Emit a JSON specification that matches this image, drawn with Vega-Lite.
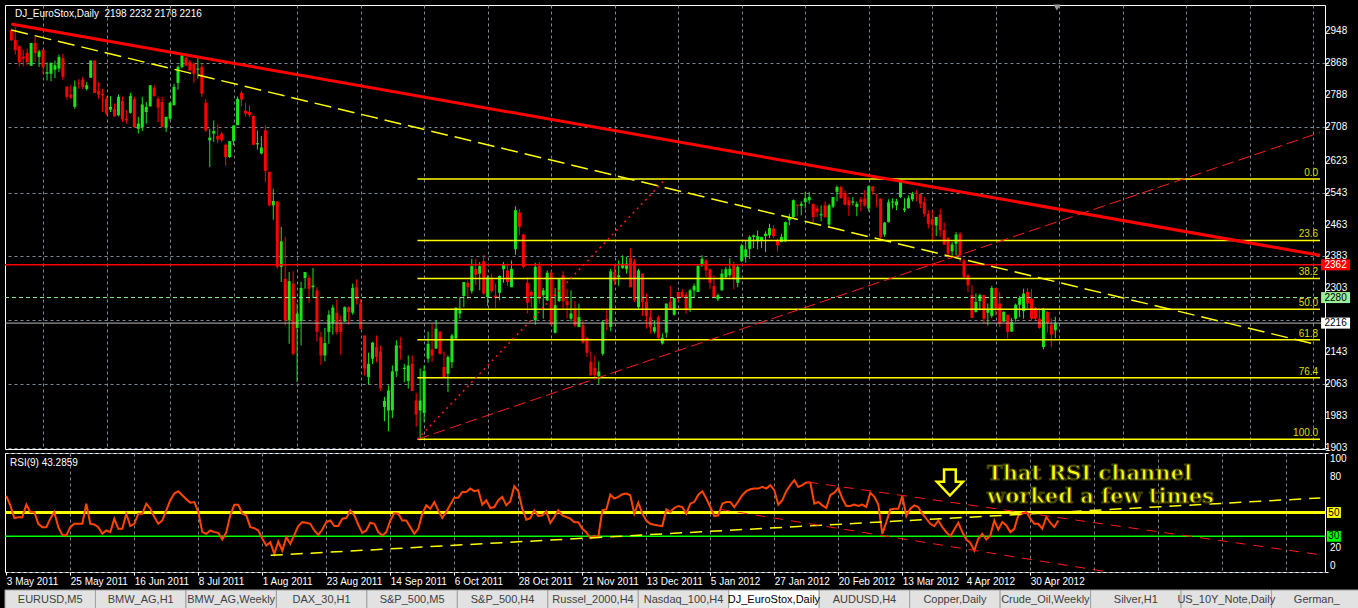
{
"$schema": "https://vega.github.io/schema/vega-lite/v6.json",
"background": "#000000",
"padding": {"left": 1, "top": 3, "right": 0, "bottom": 0},
"spacing": 2,
"config": {
 "view": {"stroke": "#ffffff", "strokeWidth": 1},
 "axis": {"labelFont": "Liberation Sans", "labelFontSize": 10, "labelColor": "#ffffff", "gridColor": "#7a8794", "gridDash": [3,3], "gridWidth": 1, "tickColor": "#ffffff", "tickWidth": 1, "domain": false, "zindex": 0, "labelOverlap": false},
 "text": {"font": "Liberation Sans"}
},
"resolve": {"scale": {"x": "independent", "y": "independent"}},
"datasets": {
"one": [{}],
"bars": [
{"i":0,"o":2950,"h":2954,"l":2923,"c":2925,"r":63.9},
{"i":1,"o":2926,"h":2958,"l":2889,"c":2900,"r":56},
{"i":2,"o":2910,"h":2912,"l":2859,"c":2870,"r":45.3},
{"i":3,"o":2884,"h":2900,"l":2859,"c":2879,"r":46},
{"i":4,"o":2893,"h":2904,"l":2862,"c":2870,"r":46},
{"i":5,"o":2861,"h":2918,"l":2861,"c":2918,"r":56.6},
{"i":6,"o":2918,"h":2933,"l":2870,"c":2893,"r":50.4},
{"i":7,"o":2883,"h":2901,"l":2858,"c":2897,"r":50.4},
{"i":8,"o":2901,"h":2901,"l":2841,"c":2858,"r":40.5},
{"i":9,"o":2841,"h":2869,"l":2824,"c":2845,"r":37.7},
{"i":10,"o":2841,"h":2870,"l":2822,"c":2868,"r":37.7},
{"i":11,"o":2851,"h":2874,"l":2830,"c":2862,"r":44.8},
{"i":12,"o":2854,"h":2889,"l":2845,"c":2883,"r":50.4},
{"i":13,"o":2880,"h":2891,"l":2826,"c":2833,"r":37.7},
{"i":14,"o":2809,"h":2809,"l":2776,"c":2783,"r":31.2},
{"i":15,"o":2789,"h":2812,"l":2778,"c":2781,"r":30.7},
{"i":16,"o":2758,"h":2824,"l":2753,"c":2809,"r":37.7},
{"i":17,"o":2818,"h":2828,"l":2803,"c":2816,"r":40.5},
{"i":18,"o":2826,"h":2833,"l":2803,"c":2808,"r":40.5},
{"i":19,"o":2803,"h":2820,"l":2799,"c":2812,"r":40.5},
{"i":20,"o":2831,"h":2874,"l":2831,"c":2874,"r":57.4},
{"i":21,"o":2874,"h":2874,"l":2793,"c":2793,"r":40.5},
{"i":22,"o":2798,"h":2820,"l":2778,"c":2789,"r":40},
{"i":23,"o":2791,"h":2803,"l":2745,"c":2787,"r":37.7},
{"i":24,"o":2778,"h":2784,"l":2737,"c":2741,"r":32.1},
{"i":25,"o":2751,"h":2785,"l":2745,"c":2758,"r":34.9},
{"i":26,"o":2753,"h":2766,"l":2734,"c":2734,"r":33.5},
{"i":27,"o":2737,"h":2789,"l":2734,"c":2783,"r":44.8},
{"i":28,"o":2773,"h":2784,"l":2720,"c":2726,"r":36.3},
{"i":29,"o":2728,"h":2749,"l":2716,"c":2724,"r":36.3},
{"i":30,"o":2743,"h":2793,"l":2741,"c":2785,"r":49},
{"i":31,"o":2777,"h":2783,"l":2707,"c":2707,"r":38.6},
{"i":32,"o":2703,"h":2733,"l":2691,"c":2716,"r":40.5},
{"i":33,"o":2707,"h":2783,"l":2697,"c":2764,"r":49},
{"i":34,"o":2745,"h":2770,"l":2716,"c":2758,"r":49},
{"i":35,"o":2759,"h":2812,"l":2759,"c":2812,"r":57.4},
{"i":36,"o":2805,"h":2812,"l":2783,"c":2785,"r":53.2},
{"i":37,"o":2778,"h":2784,"l":2720,"c":2756,"r":46.2},
{"i":38,"o":2770,"h":2783,"l":2707,"c":2707,"r":40.5},
{"i":39,"o":2707,"h":2733,"l":2695,"c":2733,"r":43.3},
{"i":40,"o":2728,"h":2770,"l":2724,"c":2768,"r":51.8},
{"i":41,"o":2762,"h":2816,"l":2762,"c":2808,"r":60.3},
{"i":42,"o":2818,"h":2862,"l":2801,"c":2858,"r":65.9},
{"i":43,"o":2858,"h":2891,"l":2854,"c":2887,"r":67.9},
{"i":44,"o":2881,"h":2884,"l":2859,"c":2862,"r":64.5},
{"i":45,"o":2870,"h":2876,"l":2849,"c":2849,"r":61.1},
{"i":46,"o":2866,"h":2870,"l":2818,"c":2841,"r":58.3},
{"i":47,"o":2851,"h":2883,"l":2829,"c":2854,"r":58.8},
{"i":48,"o":2858,"h":2866,"l":2783,"c":2791,"r":50.4},
{"i":49,"o":2768,"h":2778,"l":2695,"c":2699,"r":33.5},
{"i":50,"o":2674,"h":2703,"l":2607,"c":2681,"r":32.1},
{"i":51,"o":2691,"h":2724,"l":2670,"c":2697,"r":34.9},
{"i":52,"o":2685,"h":2714,"l":2667,"c":2676,"r":33.5},
{"i":53,"o":2691,"h":2695,"l":2670,"c":2674,"r":32.9},
{"i":54,"o":2663,"h":2666,"l":2610,"c":2632,"r":27.3},
{"i":55,"o":2632,"h":2672,"l":2630,"c":2672,"r":33.5},
{"i":56,"o":2672,"h":2712,"l":2662,"c":2711,"r":47.6},
{"i":57,"o":2712,"h":2784,"l":2712,"c":2778,"r":56.6},
{"i":58,"o":2793,"h":2798,"l":2759,"c":2776,"r":56.6},
{"i":59,"o":2748,"h":2768,"l":2734,"c":2741,"r":49},
{"i":60,"o":2745,"h":2762,"l":2733,"c":2737,"r":47.6},
{"i":61,"o":2735,"h":2737,"l":2662,"c":2663,"r":37.7},
{"i":62,"o":2664,"h":2699,"l":2651,"c":2667,"r":36.9},
{"i":63,"o":2641,"h":2685,"l":2639,"c":2656,"r":34.9},
{"i":64,"o":2699,"h":2712,"l":2570,"c":2597,"r":27.9},
{"i":65,"o":2595,"h":2595,"l":2509,"c":2511,"r":22.2},
{"i":66,"o":2511,"h":2553,"l":2475,"c":2522,"r":25},
{"i":67,"o":2521,"h":2521,"l":2352,"c":2357,"r":15.2},
{"i":68,"o":2357,"h":2457,"l":2319,"c":2421,"r":25.6},
{"i":69,"o":2327,"h":2432,"l":2210,"c":2223,"r":18},
{"i":70,"o":2223,"h":2344,"l":2164,"c":2321,"r":29.3},
{"i":71,"o":2315,"h":2346,"l":2135,"c":2139,"r":23.6},
{"i":72,"o":2204,"h":2265,"l":2068,"c":2240,"r":31.2},
{"i":73,"o":2221,"h":2319,"l":2160,"c":2304,"r":38.6},
{"i":74,"o":2329,"h":2344,"l":2302,"c":2344,"r":41.9},
{"i":75,"o":2329,"h":2336,"l":2267,"c":2302,"r":41.4},
{"i":76,"o":2306,"h":2354,"l":2279,"c":2310,"r":40.5},
{"i":77,"o":2298,"h":2306,"l":2170,"c":2194,"r":34.9},
{"i":78,"o":2181,"h":2194,"l":2112,"c":2135,"r":31.2},
{"i":79,"o":2135,"h":2204,"l":2120,"c":2166,"r":35.7},
{"i":80,"o":2194,"h":2248,"l":2164,"c":2237,"r":41.9},
{"i":81,"o":2215,"h":2262,"l":2187,"c":2255,"r":43.3},
{"i":82,"o":2242,"h":2275,"l":2187,"c":2194,"r":38.6},
{"i":83,"o":2217,"h":2235,"l":2137,"c":2194,"r":38.6},
{"i":84,"o":2220,"h":2258,"l":2219,"c":2256,"r":44.8},
{"i":85,"o":2256,"h":2258,"l":2212,"c":2244,"r":45.3},
{"i":86,"o":2242,"h":2315,"l":2237,"c":2304,"r":51.8},
{"i":87,"o":2306,"h":2326,"l":2262,"c":2276,"r":47.6},
{"i":88,"o":2265,"h":2276,"l":2200,"c":2202,"r":39.7},
{"i":89,"o":2185,"h":2185,"l":2085,"c":2102,"r":32.9},
{"i":90,"o":2081,"h":2142,"l":2062,"c":2114,"r":34.9},
{"i":91,"o":2127,"h":2169,"l":2114,"c":2167,"r":41.4},
{"i":92,"o":2156,"h":2185,"l":2118,"c":2131,"r":40.5},
{"i":93,"o":2145,"h":2159,"l":2046,"c":2053,"r":33.5},
{"i":94,"o":2006,"h":2031,"l":1970,"c":2021,"r":30.7},
{"i":95,"o":1997,"h":2060,"l":1945,"c":2047,"r":33.5},
{"i":96,"o":1997,"h":2110,"l":1978,"c":2095,"r":43.3},
{"i":97,"o":2095,"h":2173,"l":2081,"c":2160,"r":49.5},
{"i":98,"o":2160,"h":2181,"l":2125,"c":2154,"r":49},
{"i":99,"o":2101,"h":2114,"l":2068,"c":2104,"r":43.3},
{"i":100,"o":2071,"h":2135,"l":2052,"c":2110,"r":43.3},
{"i":101,"o":2114,"h":2135,"l":2046,"c":2046,"r":37.7},
{"i":102,"o":2022,"h":2041,"l":1956,"c":1987,"r":32.1},
{"i":103,"o":1997,"h":2102,"l":1922,"c":2022,"r":36.3},
{"i":104,"o":1991,"h":2110,"l":1968,"c":2096,"r":49},
{"i":105,"o":2127,"h":2195,"l":2117,"c":2164,"r":56},
{"i":106,"o":2150,"h":2215,"l":2118,"c":2135,"r":53.2},
{"i":107,"o":2152,"h":2223,"l":2152,"c":2202,"r":58.8},
{"i":108,"o":2195,"h":2195,"l":2137,"c":2139,"r":51.8},
{"i":109,"o":2106,"h":2145,"l":2081,"c":2081,"r":45.3},
{"i":110,"o":2089,"h":2135,"l":2043,"c":2131,"r":50.4},
{"i":111,"o":2118,"h":2189,"l":2103,"c":2185,"r":56.6},
{"i":112,"o":2177,"h":2256,"l":2173,"c":2254,"r":62.5},
{"i":113,"o":2240,"h":2281,"l":2227,"c":2248,"r":62.5},
{"i":114,"o":2284,"h":2319,"l":2256,"c":2319,"r":67.3},
{"i":115,"o":2317,"h":2323,"l":2275,"c":2306,"r":67.3},
{"i":116,"o":2296,"h":2377,"l":2290,"c":2359,"r":70.1},
{"i":117,"o":2352,"h":2377,"l":2311,"c":2337,"r":67.9},
{"i":118,"o":2340,"h":2369,"l":2298,"c":2359,"r":68.7},
{"i":119,"o":2371,"h":2387,"l":2287,"c":2290,"r":56.6},
{"i":120,"o":2281,"h":2336,"l":2259,"c":2331,"r":60.3},
{"i":121,"o":2326,"h":2340,"l":2292,"c":2296,"r":53.8},
{"i":122,"o":2285,"h":2315,"l":2254,"c":2279,"r":54.6},
{"i":123,"o":2292,"h":2336,"l":2273,"c":2334,"r":60.3},
{"i":124,"o":2351,"h":2369,"l":2317,"c":2362,"r":63.1},
{"i":125,"o":2348,"h":2365,"l":2309,"c":2319,"r":56},
{"i":126,"o":2306,"h":2373,"l":2306,"c":2352,"r":59.4},
{"i":127,"o":2401,"h":2509,"l":2387,"c":2499,"r":72.1},
{"i":128,"o":2493,"h":2501,"l":2436,"c":2457,"r":67.9},
{"i":129,"o":2438,"h":2440,"l":2354,"c":2357,"r":53.2},
{"i":130,"o":2317,"h":2331,"l":2240,"c":2267,"r":43.9},
{"i":131,"o":2294,"h":2298,"l":2256,"c":2285,"r":45.3},
{"i":132,"o":2223,"h":2367,"l":2212,"c":2357,"r":51.8},
{"i":133,"o":2359,"h":2369,"l":2265,"c":2277,"r":47},
{"i":134,"o":2286,"h":2304,"l":2227,"c":2298,"r":47.6},
{"i":135,"o":2273,"h":2348,"l":2271,"c":2342,"r":51},
{"i":136,"o":2342,"h":2348,"l":2211,"c":2212,"r":41.1},
{"i":137,"o":2192,"h":2304,"l":2190,"c":2261,"r":46.2},
{"i":138,"o":2271,"h":2329,"l":2269,"c":2326,"r":51.8},
{"i":139,"o":2336,"h":2346,"l":2252,"c":2271,"r":47.6},
{"i":140,"o":2271,"h":2302,"l":2227,"c":2261,"r":46.2},
{"i":141,"o":2227,"h":2298,"l":2220,"c":2240,"r":44.8},
{"i":142,"o":2252,"h":2271,"l":2206,"c":2210,"r":41.9},
{"i":143,"o":2206,"h":2265,"l":2206,"c":2231,"r":41.9},
{"i":144,"o":2212,"h":2225,"l":2164,"c":2167,"r":36.3},
{"i":145,"o":2179,"h":2181,"l":2131,"c":2142,"r":33.5},
{"i":146,"o":2119,"h":2145,"l":2085,"c":2085,"r":28.4},
{"i":147,"o":2104,"h":2135,"l":2077,"c":2085,"r":30.1},
{"i":148,"o":2083,"h":2120,"l":2064,"c":2095,"r":29.3},
{"i":149,"o":2139,"h":2223,"l":2134,"c":2219,"r":51.8},
{"i":150,"o":2226,"h":2248,"l":2198,"c":2219,"r":52.6},
{"i":151,"o":2206,"h":2352,"l":2195,"c":2346,"r":65},
{"i":152,"o":2344,"h":2361,"l":2311,"c":2321,"r":61.7},
{"i":153,"o":2331,"h":2373,"l":2309,"c":2336,"r":63.1},
{"i":154,"o":2354,"h":2386,"l":2352,"c":2365,"r":65.3},
{"i":155,"o":2351,"h":2382,"l":2340,"c":2365,"r":65.9},
{"i":156,"o":2379,"h":2404,"l":2306,"c":2306,"r":64.5},
{"i":157,"o":2371,"h":2377,"l":2269,"c":2273,"r":49},
{"i":158,"o":2256,"h":2352,"l":2252,"c":2348,"r":58.3},
{"i":159,"o":2340,"h":2340,"l":2235,"c":2269,"r":49},
{"i":160,"o":2269,"h":2290,"l":2202,"c":2234,"r":43.3},
{"i":161,"o":2231,"h":2252,"l":2190,"c":2206,"r":40.5},
{"i":162,"o":2195,"h":2223,"l":2190,"c":2206,"r":39.7},
{"i":163,"o":2231,"h":2235,"l":2177,"c":2179,"r":39.1},
{"i":164,"o":2165,"h":2190,"l":2162,"c":2179,"r":38.6},
{"i":165,"o":2192,"h":2265,"l":2179,"c":2265,"r":52.6},
{"i":166,"o":2269,"h":2309,"l":2252,"c":2252,"r":50.4},
{"i":167,"o":2237,"h":2279,"l":2235,"c":2279,"r":53.8},
{"i":168,"o":2294,"h":2294,"l":2269,"c":2277,"r":55.5},
{"i":169,"o":2294,"h":2302,"l":2279,"c":2279,"r":54.6},
{"i":170,"o":2287,"h":2294,"l":2240,"c":2248,"r":49},
{"i":171,"o":2254,"h":2302,"l":2244,"c":2298,"r":57.4},
{"i":172,"o":2298,"h":2315,"l":2281,"c":2309,"r":58.8},
{"i":173,"o":2294,"h":2361,"l":2294,"c":2359,"r":65},
{"i":174,"o":2361,"h":2386,"l":2357,"c":2377,"r":67.9},
{"i":175,"o":2373,"h":2377,"l":2331,"c":2348,"r":61.7},
{"i":176,"o":2351,"h":2353,"l":2302,"c":2317,"r":54.6},
{"i":177,"o":2309,"h":2336,"l":2281,"c":2281,"r":47},
{"i":178,"o":2276,"h":2290,"l":2271,"c":2286,"r":47.6},
{"i":179,"o":2298,"h":2351,"l":2298,"c":2340,"r":57.4},
{"i":180,"o":2331,"h":2357,"l":2327,"c":2351,"r":58.8},
{"i":181,"o":2336,"h":2379,"l":2331,"c":2352,"r":58.8},
{"i":182,"o":2361,"h":2371,"l":2301,"c":2326,"r":54.6},
{"i":183,"o":2317,"h":2361,"l":2306,"c":2357,"r":59.4},
{"i":184,"o":2371,"h":2415,"l":2369,"c":2411,"r":64.5},
{"i":185,"o":2382,"h":2424,"l":2367,"c":2401,"r":67.9},
{"i":186,"o":2402,"h":2436,"l":2377,"c":2432,"r":69.5},
{"i":187,"o":2432,"h":2438,"l":2404,"c":2436,"r":70.1},
{"i":188,"o":2421,"h":2448,"l":2401,"c":2434,"r":70.1},
{"i":189,"o":2424,"h":2432,"l":2404,"c":2432,"r":71.5},
{"i":190,"o":2434,"h":2446,"l":2394,"c":2440,"r":70.1},
{"i":191,"o":2436,"h":2465,"l":2429,"c":2454,"r":73},
{"i":192,"o":2453,"h":2461,"l":2429,"c":2434,"r":68.7},
{"i":193,"o":2423,"h":2428,"l":2396,"c":2411,"r":56.6},
{"i":194,"o":2419,"h":2440,"l":2419,"c":2432,"r":60.3},
{"i":195,"o":2421,"h":2471,"l":2419,"c":2469,"r":67.9},
{"i":196,"o":2474,"h":2490,"l":2461,"c":2482,"r":73},
{"i":197,"o":2482,"h":2526,"l":2479,"c":2524,"r":77.2},
{"i":198,"o":2513,"h":2513,"l":2484,"c":2510,"r":71.5},
{"i":199,"o":2510,"h":2521,"l":2486,"c":2515,"r":73},
{"i":200,"o":2519,"h":2544,"l":2503,"c":2529,"r":75.2},
{"i":201,"o":2524,"h":2545,"l":2515,"c":2532,"r":75.2},
{"i":202,"o":2515,"h":2515,"l":2469,"c":2482,"r":57.4},
{"i":203,"o":2503,"h":2511,"l":2482,"c":2495,"r":58.8},
{"i":204,"o":2486,"h":2511,"l":2471,"c":2489,"r":56},
{"i":205,"o":2511,"h":2521,"l":2479,"c":2482,"r":53.8},
{"i":206,"o":2463,"h":2515,"l":2457,"c":2511,"r":64.5},
{"i":207,"o":2508,"h":2532,"l":2504,"c":2532,"r":66.7},
{"i":208,"o":2545,"h":2561,"l":2521,"c":2557,"r":70.7},
{"i":209,"o":2557,"h":2560,"l":2528,"c":2529,"r":61.7},
{"i":210,"o":2542,"h":2549,"l":2511,"c":2513,"r":55.5},
{"i":211,"o":2524,"h":2532,"l":2484,"c":2511,"r":55.5},
{"i":212,"o":2518,"h":2532,"l":2511,"c":2521,"r":56.6},
{"i":213,"o":2507,"h":2521,"l":2484,"c":2515,"r":55.5},
{"i":214,"o":2526,"h":2532,"l":2496,"c":2519,"r":56.6},
{"i":215,"o":2528,"h":2549,"l":2507,"c":2511,"r":54.6},
{"i":216,"o":2503,"h":2561,"l":2496,"c":2559,"r":66.7},
{"i":217,"o":2559,"h":2559,"l":2538,"c":2546,"r":63.1},
{"i":218,"o":2538,"h":2540,"l":2507,"c":2536,"r":56.6},
{"i":219,"o":2528,"h":2528,"l":2428,"c":2432,"r":32.1},
{"i":220,"o":2438,"h":2469,"l":2432,"c":2468,"r":41.9},
{"i":221,"o":2469,"h":2526,"l":2468,"c":2519,"r":52.6},
{"i":222,"o":2518,"h":2529,"l":2503,"c":2521,"r":53.2},
{"i":223,"o":2511,"h":2528,"l":2499,"c":2521,"r":53.2},
{"i":224,"o":2532,"h":2578,"l":2529,"c":2570,"r":63.9},
{"i":225,"o":2499,"h":2529,"l":2494,"c":2503,"r":47},
{"i":226,"o":2504,"h":2536,"l":2503,"c":2529,"r":53.2},
{"i":227,"o":2526,"h":2545,"l":2521,"c":2540,"r":56},
{"i":228,"o":2543,"h":2549,"l":2521,"c":2540,"r":54.6},
{"i":229,"o":2540,"h":2540,"l":2504,"c":2515,"r":49},
{"i":230,"o":2519,"h":2532,"l":2482,"c":2490,"r":44.8},
{"i":231,"o":2490,"h":2499,"l":2453,"c":2465,"r":40.5},
{"i":232,"o":2476,"h":2499,"l":2423,"c":2463,"r":38.6},
{"i":233,"o":2461,"h":2482,"l":2434,"c":2482,"r":43.3},
{"i":234,"o":2488,"h":2503,"l":2432,"c":2449,"r":37.7},
{"i":235,"o":2449,"h":2469,"l":2411,"c":2413,"r":33.5},
{"i":236,"o":2429,"h":2432,"l":2376,"c":2390,"r":30.1},
{"i":237,"o":2396,"h":2419,"l":2382,"c":2413,"r":35.7},
{"i":238,"o":2415,"h":2444,"l":2386,"c":2438,"r":41.4},
{"i":239,"o":2440,"h":2444,"l":2369,"c":2386,"r":33.5},
{"i":240,"o":2373,"h":2377,"l":2327,"c":2332,"r":27.3},
{"i":241,"o":2336,"h":2340,"l":2294,"c":2311,"r":24.5},
{"i":242,"o":2286,"h":2311,"l":2229,"c":2229,"r":18},
{"i":243,"o":2244,"h":2290,"l":2242,"c":2269,"r":27.9},
{"i":244,"o":2271,"h":2290,"l":2248,"c":2286,"r":32.1},
{"i":245,"o":2286,"h":2287,"l":2215,"c":2227,"r":27.3},
{"i":246,"o":2242,"h":2265,"l":2210,"c":2252,"r":30.7},
{"i":247,"o":2234,"h":2309,"l":2229,"c":2304,"r":43.3},
{"i":248,"o":2304,"h":2304,"l":2235,"c":2254,"r":35.7},
{"i":249,"o":2265,"h":2294,"l":2206,"c":2215,"r":41.9},
{"i":250,"o":2220,"h":2246,"l":2219,"c":2244,"r":39.1},
{"i":251,"o":2237,"h":2237,"l":2177,"c":2194,"r":33.5},
{"i":252,"o":2195,"h":2229,"l":2194,"c":2219,"r":36.3},
{"i":253,"o":2227,"h":2265,"l":2220,"c":2262,"r":47.6},
{"i":254,"o":2262,"h":2284,"l":2231,"c":2279,"r":49},
{"i":255,"o":2246,"h":2302,"l":2227,"c":2290,"r":50.4},
{"i":256,"o":2294,"h":2304,"l":2252,"c":2265,"r":44.8},
{"i":257,"o":2277,"h":2302,"l":2223,"c":2227,"r":40.5},
{"i":258,"o":2254,"h":2256,"l":2223,"c":2227,"r":40.5},
{"i":259,"o":2227,"h":2252,"l":2202,"c":2204,"r":36.3},
{"i":260,"o":2156,"h":2254,"l":2150,"c":2252,"r":46.2},
{"i":261,"o":2244,"h":2246,"l":2192,"c":2215,"r":41.4},
{"i":262,"o":2212,"h":2227,"l":2156,"c":2187,"r":37.7},
{"i":263,"o":2198,"h":2232,"l":2178,"c":2216,"r":43.3}
]
},
"vconcat": [
{
 "spacing": 4,
 "bounds": "flush",
 "resolve": {"scale": {"x": "independent", "y": "independent"}},
 "vconcat": [
{
 "width": 1320, "height": 444,
 "layer": [
  {"data": {"name": "bars"}, "mark": {"type": "rule", "strokeWidth": 1},
   "encoding": {
    "x": {"field": "i", "type": "quantitative", "scale": {"domain": [-0.325, 329.675], "nice": false, "zero": false},
          "axis": {"values": [8,16,24,32,40,48,56,64,72,80,88,96,104,112,120,128,136,144,152,160,168,176,184,192,200,208,216,224,232,240,248,256,264,272,280,288,296,304,312,320,328], "labels": false, "ticks": false, "domain": false, "grid": true, "title": null}},
    "y": {"field": "l", "type": "quantitative", "scale": {"domain": [1900.5, 3013.2], "nice": false, "zero": false},
          "axis": {"orient": "right", "values": [1903,1983,2063,2143,2223,2303,2383,2463,2543,2623,2708,2788,2868,2948], "labels": false, "tickSize": 3, "grid": true, "title": null}},
    "y2": {"field": "h"},
    "color": {"condition": {"test": "datum.c >= datum.o", "value": "#19e619"}, "value": "#ff0000"}
   }},
  {"data": {"name": "bars"}, "mark": {"type": "bar", "size": 3},
   "encoding": {
    "x": {"field": "i", "type": "quantitative"},
    "y": {"field": "o", "type": "quantitative"},
    "y2": {"field": "c"},
    "color": {"condition": {"test": "datum.c >= datum.o", "value": "#19e619"}, "value": "#ff0000"}
   }},
  {"data": {"values": [{"v": 1903}, {"v": 1983}, {"v": 2063}, {"v": 2143}, {"v": 2303}, {"v": 2383}, {"v": 2463}, {"v": 2543}, {"v": 2623}, {"v": 2708}, {"v": 2788}, {"v": 2868}, {"v": 2948}]},
   "mark": {"type": "text", "color": "#ffffff", "fontSize": 10, "align": "left", "baseline": "middle", "dx": 5},
   "encoding": {"x": {"datum": 329.675, "type": "quantitative"}, "y": {"field": "v", "type": "quantitative"}, "text": {"field": "v", "type": "quantitative", "format": "d"}}},
  {"data": {"values": [{"level": "0.0", "p": 2577}, {"level": "23.6", "p": 2423.1}, {"level": "38.2", "p": 2327.9}, {"level": "50.0", "p": 2251}, {"level": "61.8", "p": 2174.1}, {"level": "76.4", "p": 2078.9}, {"level": "100.0", "p": 1925}]},
   "layer": [
    {"mark": {"type": "rule", "color": "#ffff00", "strokeWidth": 1.5},
     "encoding": {"x": {"datum": 102.3, "type": "quantitative"}, "x2": {"datum": 329.675}, "y": {"field": "p", "type": "quantitative"}}},
    {"mark": {"type": "text", "color": "#dede00", "fontSize": 10, "align": "right", "baseline": "bottom", "dy": -1},
     "encoding": {"x": {"datum": 329.2, "type": "quantitative"}, "y": {"field": "p", "type": "quantitative"}, "text": {"field": "level"}}}
   ]},
  {"data": {"name": "one"}, "mark": {"type": "rule", "color": "#ff0000", "strokeWidth": 1.5}, "encoding": {"y": {"datum": 2362, "type": "quantitative"}}},
  {"data": {"name": "one"}, "mark": {"type": "rule", "color": "#90ee90", "strokeWidth": 1, "strokeDash": [4,3]}, "encoding": {"y": {"datum": 2280, "type": "quantitative"}}},
  {"data": {"name": "one"}, "mark": {"type": "rule", "color": "#b8b8b8", "strokeWidth": 1}, "encoding": {"y": {"datum": 2216, "type": "quantitative"}}},
  {"data": {"values": [{"i": 0, "p": 2965.5}, {"i": 329.675, "p": 2385.8}]},
   "mark": {"type": "line", "color": "#ff0000", "strokeWidth": 3},
   "encoding": {"x": {"field": "i", "type": "quantitative"}, "y": {"field": "p", "type": "quantitative"}}},
  {"data": {"values": [{"i": 0, "p": 2950.5}, {"i": 328.2, "p": 2163.7}]},
   "mark": {"type": "line", "color": "#ffff00", "strokeWidth": 1.5, "strokeDash": [17,7]},
   "encoding": {"x": {"field": "i", "type": "quantitative"}, "y": {"field": "p", "type": "quantitative"}}},
  {"data": {"values": [{"i": 102.3, "p": 1925}, {"i": 329.675, "p": 2693.6}]},
   "mark": {"type": "line", "color": "#ff1a1a", "strokeWidth": 1, "strokeDash": [12,5]},
   "encoding": {"x": {"field": "i", "type": "quantitative"}, "y": {"field": "p", "type": "quantitative"}}},
  {"data": {"values": [{"i": 102.3, "p": 1925}, {"i": 164.8, "p": 2577}]},
   "mark": {"type": "line", "color": "#ff1a1a", "strokeWidth": 1.5, "strokeDash": [2,4]},
   "encoding": {"x": {"field": "i", "type": "quantitative"}, "y": {"field": "p", "type": "quantitative"}}},
  {"data": {"name": "one"}, "mark": {"type": "point", "shape": "M-1,-0.38L1,-0.38L1,0.38L-1,0.38Z", "size": 841, "filled": true, "color": "#ff0000", "opacity": 1},
   "encoding": {"x": {"datum": 333.6, "type": "quantitative"}, "y": {"datum": 2362, "type": "quantitative"}}},
  {"data": {"name": "one"}, "mark": {"type": "point", "shape": "M-1,-0.38L1,-0.38L1,0.38L-1,0.38Z", "size": 841, "filled": true, "color": "#98f098", "opacity": 1},
   "encoding": {"x": {"datum": 333.6, "type": "quantitative"}, "y": {"datum": 2280, "type": "quantitative"}}},
  {"data": {"name": "one"}, "mark": {"type": "point", "shape": "M-1,-0.38L1,-0.38L1,0.38L-1,0.38Z", "size": 841, "filled": true, "color": "#ffffff", "opacity": 1},
   "encoding": {"x": {"datum": 333.6, "type": "quantitative"}, "y": {"datum": 2216, "type": "quantitative"}}},
  {"data": {"name": "one"}, "mark": {"type": "text", "color": "#ffffff", "fontSize": 10, "align": "center", "baseline": "middle"},
   "encoding": {"x": {"datum": 333.6, "type": "quantitative"}, "y": {"datum": 2362, "type": "quantitative"}, "text": {"value": "2362"}}},
  {"data": {"name": "one"}, "mark": {"type": "text", "color": "#000000", "fontSize": 10, "align": "center", "baseline": "middle"},
   "encoding": {"x": {"datum": 333.6, "type": "quantitative"}, "y": {"datum": 2280, "type": "quantitative"}, "text": {"value": "2280"}}},
  {"data": {"name": "one"}, "mark": {"type": "text", "color": "#000000", "fontSize": 10, "align": "center", "baseline": "middle"},
   "encoding": {"x": {"datum": 333.6, "type": "quantitative"}, "y": {"datum": 2216, "type": "quantitative"}, "text": {"value": "2216"}}},
  {"data": {"name": "one"}, "mark": {"type": "text", "color": "#ffffff", "fontSize": 10, "align": "left", "baseline": "middle"},
   "encoding": {"x": {"datum": 0.925, "type": "quantitative"}, "y": {"datum": 2990.6, "type": "quantitative"}, "text": {"value": "DJ_EuroStox,Daily \u00a02198 2232 2178 2216"}}},
  {"data": {"name": "one"}, "mark": {"type": "point", "shape": "triangle-down", "size": 50, "filled": true, "color": "#9a9a9a", "opacity": 1},
   "encoding": {"x": {"datum": 263.4, "type": "quantitative"}, "y": {"datum": 3007, "type": "quantitative"}}}
 ]
},
{
 "width": 1320, "height": 119,
 "layer": [
  {"data": {"name": "one"}, "mark": {"type": "rule", "color": "#ffff00", "strokeWidth": 3},
   "encoding": {
    "x": {"datum": -0.325, "type": "quantitative", "scale": {"domain": [-0.325, 329.675], "nice": false, "zero": false},
          "axis": {"values": [0,8,16,24,32,40,48,56,64,72,80,88,96,104,112,120,128,136,144,152,160,168,176,184,192,200,208,216,224,232,240,248,256,264,272,280,288,296,304,312,320,328], "grid": true, "domain": false, "title": null, "tickSize": 3, "labelPadding": 1, "labelAlign": "left", "labelBaseline": "top", "labelOverlap": false, "labelFlush": false, "labelBound": false,
                   "gridOpacity": {"condition": {"test": "datum.value == 0", "value": 0}, "value": 1},
                   "tickOpacity": {"condition": {"test": "datum.value % 16 == 0 && datum.value <= 256", "value": 1}, "value": 0},
                   "labelExpr": "(datum.value % 16 == 0 && datum.value <= 256) ? ['3 May 2011','25 May 2011','16 Jun 2011','8 Jul 2011','1 Aug 2011','23 Aug 2011','14 Sep 2011','6 Oct 2011','28 Oct 2011','21 Nov 2011','13 Dec 2011','5 Jan 2012','27 Jan 2012','20 Feb 2012','13 Mar 2012','4 Apr 2012','30 Apr 2012'][datum.value / 16] : ''"}},
    "x2": {"datum": 329.675},
    "y": {"datum": 50, "type": "quantitative", "scale": {"domain": [0, 100], "nice": false, "zero": false},
          "axis": {"orient": "right", "values": [0,20,80,100], "labels": false, "grid": true, "tickSize": 3, "title": null}}
   }},
  {"data": {"name": "one"}, "mark": {"type": "rule", "color": "#00ff00", "strokeWidth": 1.5},
   "encoding": {"x": {"datum": -0.325, "type": "quantitative"}, "x2": {"datum": 329.675}, "y": {"datum": 30, "type": "quantitative"}}},
  {"data": {"name": "bars"}, "mark": {"type": "line", "color": "#ff4500", "strokeWidth": 2},
   "encoding": {"x": {"field": "i", "type": "quantitative"}, "y": {"field": "r", "type": "quantitative"}}},
  {"data": {"values": [{"v": 20}, {"v": 80}]},
   "mark": {"type": "text", "color": "#ffffff", "fontSize": 10, "align": "left", "baseline": "middle", "dx": 5},
   "encoding": {"x": {"datum": 329.675, "type": "quantitative"}, "y": {"field": "v", "type": "quantitative"}, "text": {"field": "v", "type": "quantitative", "format": "d"}}},
  {"data": {"name": "one"}, "mark": {"type": "text", "color": "#ffffff", "fontSize": 10, "align": "left", "baseline": "top", "dx": 5, "dy": 1},
   "encoding": {"x": {"datum": 329.675, "type": "quantitative"}, "y": {"datum": 100, "type": "quantitative"}, "text": {"value": "100"}}},
  {"data": {"name": "one"}, "mark": {"type": "text", "color": "#ffffff", "fontSize": 10, "align": "left", "baseline": "bottom", "dx": 5, "dy": -1},
   "encoding": {"x": {"datum": 329.675, "type": "quantitative"}, "y": {"datum": 0, "type": "quantitative"}, "text": {"value": "0"}}},
  {"data": {"values": [{"i": 66.1, "r": 14.0}, {"i": 328.5, "r": 62.2}]},
   "mark": {"type": "line", "color": "#ffff00", "strokeWidth": 1.5, "strokeDash": [12,8]},
   "encoding": {"x": {"field": "i", "type": "quantitative"}, "y": {"field": "r", "type": "quantitative"}}},
  {"data": {"values": [{"i": 200.4, "r": 75.6}, {"i": 328.9, "r": 14.3}]},
   "mark": {"type": "line", "color": "#ff1a1a", "strokeWidth": 1, "strokeDash": [10,8]},
   "encoding": {"x": {"field": "i", "type": "quantitative"}, "y": {"field": "r", "type": "quantitative"}}},
  {"data": {"values": [{"i": 178.4, "r": 52.7}, {"i": 275.5, "r": 0}]},
   "mark": {"type": "line", "color": "#ff1a1a", "strokeWidth": 1, "strokeDash": [10,8]},
   "encoding": {"x": {"field": "i", "type": "quantitative"}, "y": {"field": "r", "type": "quantitative"}}},
  {"data": {"name": "one"}, "mark": {"type": "point", "shape": "M-1,-0.78L1,-0.78L1,0.78L-1,0.78Z", "size": 196, "filled": true, "color": "#ffff00", "opacity": 1},
   "encoding": {"x": {"datum": 331.9, "type": "quantitative"}, "y": {"datum": 50, "type": "quantitative"}}},
  {"data": {"name": "one"}, "mark": {"type": "point", "shape": "M-1,-0.78L1,-0.78L1,0.78L-1,0.78Z", "size": 196, "filled": true, "color": "#00ff00", "opacity": 1},
   "encoding": {"x": {"datum": 331.9, "type": "quantitative"}, "y": {"datum": 30, "type": "quantitative"}}},
  {"data": {"name": "one"}, "mark": {"type": "text", "color": "#000000", "fontSize": 10, "align": "center", "baseline": "middle"},
   "encoding": {"x": {"datum": 331.9, "type": "quantitative"}, "y": {"datum": 50, "type": "quantitative"}, "text": {"value": "50"}}},
  {"data": {"name": "one"}, "mark": {"type": "text", "color": "#000000", "fontSize": 10, "align": "center", "baseline": "middle"},
   "encoding": {"x": {"datum": 331.9, "type": "quantitative"}, "y": {"datum": 30, "type": "quantitative"}, "text": {"value": "30"}}},
  {"data": {"name": "one"}, "mark": {"type": "text", "color": "#ffffff", "fontSize": 10, "align": "left", "baseline": "middle"},
   "encoding": {"x": {"datum": 0.925, "type": "quantitative"}, "y": {"datum": 91.6, "type": "quantitative"}, "text": {"value": "RSI(9) 43.2859"}}},
  {"data": {"name": "one"}, "mark": {"type": "text", "color": "#ffff00", "stroke": "#404000", "strokeWidth": 1.2, "font": "DejaVu Serif", "fontWeight": "bold", "fontSize": 21, "align": "left", "baseline": "top", "lineHeight": 23},
   "encoding": {"x": {"datum": 245.2, "type": "quantitative"}, "y": {"datum": 91.6, "type": "quantitative"}, "text": {"value": ["That RSI channel", "worked a few times"]}}},
  {"data": {"name": "one"}, "mark": {"type": "point", "shape": "M-0.45,-1L0.45,-1L0.45,-0.05L1,-0.05L0,1L-1,-0.05L-0.45,-0.05Z", "size": 676, "filled": true, "fill": "#000000", "stroke": "#ffff00", "strokeWidth": 2.5, "opacity": 1},
   "encoding": {"x": {"datum": 235.9, "type": "quantitative"}, "y": {"datum": 75.2, "type": "quantitative"}}}
 ]
}
 ]
},
{
 "width": 1357, "height": 20,
 "view": {"fill": "#d4d0c8", "stroke": "#a0a0a0"},
 "data": {"values": [{"tab": "EURUSD,M5"}, {"tab": "BMW_AG,H1"}, {"tab": "BMW_AG,Weekly"}, {"tab": "DAX_30,H1"}, {"tab": "S&P_500,M5"}, {"tab": "S&P_500,H4"}, {"tab": "Russel_2000,H4"}, {"tab": "Nasdaq_100,H4"}, {"tab": "DJ_EuroStox,Daily"}, {"tab": "AUDUSD,H4"}, {"tab": "Copper,Daily"}, {"tab": "Crude_Oil,Weekly"}, {"tab": "Silver,H1"}, {"tab": "US_10Y_Note,Daily"}, {"tab": "German_"}]},
 "encoding": {"x": {"field": "tab", "type": "nominal", "sort": null, "axis": null, "scale": {"paddingInner": 0, "paddingOuter": 0}}},
 "layer": [
  {"mark": {"type": "rect", "stroke": "#a0a0a0", "strokeWidth": 1},
   "encoding": {"color": {"condition": {"test": "datum.tab == 'DJ_EuroStox,Daily'", "value": "#ffffff"}, "value": "#e2e2e2"}}},
  {"mark": {"type": "text", "fontSize": 11, "font": "Liberation Sans", "baseline": "middle"},
   "encoding": {"text": {"field": "tab"}, "color": {"condition": {"test": "datum.tab == 'DJ_EuroStox,Daily'", "value": "#000000"}, "value": "#404040"}}}
 ]
}
]
}
